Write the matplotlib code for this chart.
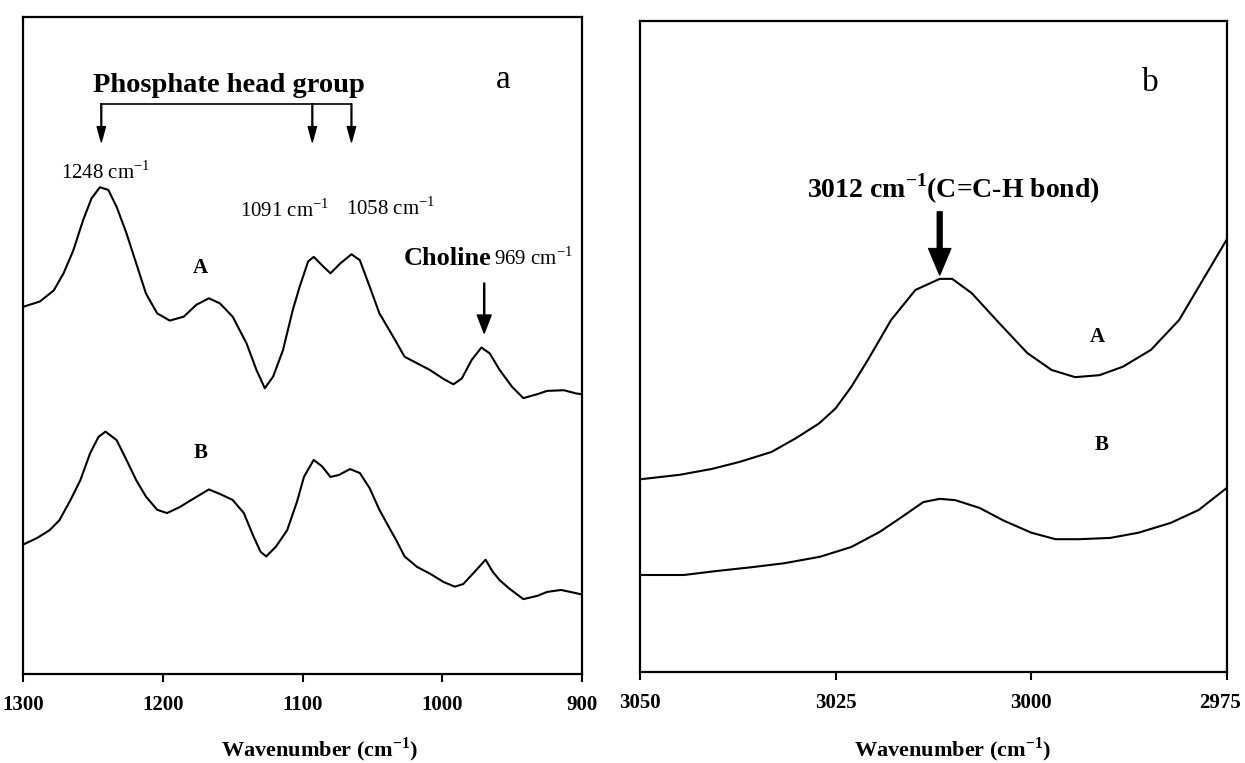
import matplotlib
matplotlib.use('Agg')
import matplotlib.pyplot as plt
from matplotlib.transforms import ScaledTranslation

plt.rcParams['font.family'] = ['Liberation Serif', 'DejaVu Serif']

# Panel a: phosphate region (arbitrary absorbance units)
wn_a = [1300, 1288, 1278, 1271, 1264, 1257, 1251, 1245, 1239, 1233, 1226, 1219, 1212,
        1204, 1195, 1185, 1176, 1167, 1159, 1150, 1140, 1133, 1127, 1121, 1114, 1107,
        1102, 1096, 1092, 1085, 1080, 1073, 1065, 1059, 1052, 1045, 1035, 1027, 1018,
        1009, 999, 992, 986, 979, 972, 966, 959, 950, 942, 932, 925, 913, 904, 900]
abs_a_A = [0.559, 0.567, 0.584, 0.610, 0.645, 0.691, 0.724, 0.741, 0.737, 0.711, 0.671, 0.625, 0.579,
           0.549, 0.538, 0.544, 0.562, 0.572, 0.564, 0.544, 0.503, 0.463, 0.435, 0.453, 0.493, 0.554,
           0.590, 0.628, 0.635, 0.620, 0.610, 0.625, 0.639, 0.630, 0.590, 0.549, 0.513, 0.483, 0.473,
           0.463, 0.449, 0.441, 0.450, 0.478, 0.497, 0.488, 0.463, 0.437, 0.420, 0.426, 0.431, 0.432, 0.427, 0.426]

wn_a_B = [1300, 1290, 1281, 1274, 1266, 1259, 1252, 1246, 1241, 1233, 1226, 1219, 1212,
          1204, 1197, 1188, 1178, 1167, 1159, 1150, 1142, 1135, 1130, 1126, 1119, 1111,
          1104, 1099, 1092, 1086, 1080, 1074, 1066, 1059, 1052, 1045, 1037, 1033, 1027,
          1018, 1009, 999, 991, 985, 978, 969, 964, 959, 952, 942, 932, 925, 915, 904, 900]
abs_a_B = [0.197, 0.207, 0.219, 0.234, 0.265, 0.295, 0.336, 0.361, 0.369, 0.356, 0.326, 0.295, 0.270,
           0.250, 0.245, 0.254, 0.267, 0.281, 0.274, 0.265, 0.245, 0.209, 0.186, 0.179, 0.194, 0.219,
           0.262, 0.300, 0.326, 0.316, 0.300, 0.303, 0.312, 0.306, 0.283, 0.250, 0.219, 0.204, 0.179,
           0.163, 0.153, 0.140, 0.133, 0.137, 0.153, 0.174, 0.156, 0.143, 0.130, 0.114, 0.119, 0.125,
           0.128, 0.123, 0.121]

# Panel b: olefinic C-H region
wn_b_A = [3050, 3044.9, 3040.8, 3037.2, 3033.2, 3030.1, 3027.1, 3025.0, 3023.0, 3020.9,
          3017.9, 3014.8, 3011.7, 3010.1, 3007.6, 3004.1, 3000.5, 2997.4, 2994.4, 2991.3,
          2988.3, 2984.7, 2981.1, 2978.1, 2975.0]
abs_b_A = [0.296, 0.303, 0.312, 0.323, 0.338, 0.359, 0.382, 0.405, 0.438, 0.479,
           0.541, 0.587, 0.604, 0.604, 0.582, 0.536, 0.490, 0.464, 0.453, 0.456,
           0.469, 0.495, 0.541, 0.602, 0.665]

wn_b_B = [3050, 3044.4, 3040.3, 3035.7, 3031.6, 3027.0, 3023.0, 3019.4, 3016.8, 3013.8,
          3011.7, 3009.7, 3006.6, 3003.6, 3000.0, 2996.9, 2993.9, 2989.9, 2986.3, 2982.2,
          2978.6, 2975.0]
abs_b_B = [0.149, 0.149, 0.155, 0.161, 0.167, 0.177, 0.192, 0.215, 0.236, 0.261,
           0.266, 0.264, 0.252, 0.233, 0.214, 0.204, 0.204, 0.206, 0.214, 0.229,
           0.249, 0.283]

ticks_a = [1300, 1200, 1100, 1000, 900]
ticks_b = [3050, 3025, 3000, 2975]

# annotation positions (wavenumber, absorbance)
phosphate_peaks = [1244, 1093, 1065]
bracket_y, arrow_tip_y = 0.868, 0.810
choline_x = 970

CM = r'cm$^{\mathregular{-1}}$'

fig = plt.figure(figsize=(12.45, 7.63), dpi=100)
ax1 = fig.add_axes([0.0185, 0.1166, 0.449, 0.861])
ax2 = fig.add_axes([0.514, 0.1193, 0.4715, 0.853])

for ax in (ax1, ax2):
    for s in ax.spines.values():
        s.set_linewidth(1.6)
    ax.set_yticks([])
    ax.set_ylim(0, 1)
    ax.tick_params(axis='x', direction='out', length=6, width=1.5, pad=9)

# ---- panel a
ax1.plot(wn_a, abs_a_A, color='black', lw=1.5)
ax1.plot(wn_a_B, abs_a_B, color='black', lw=1.5)
ax1.set_xlim(1300, 900)
ax1.set_xticks(ticks_a)
ax1.set_xticklabels([str(t) for t in ticks_a], fontweight='bold', fontsize=15)
ax1.set_xlabel('Wavenumber (' + CM + ')', fontweight='bold', fontsize=16)
ax1.xaxis.set_label_coords(0.53, -0.093)

ax1.text(1153, 0.896, 'Phosphate head group', fontweight='bold', fontsize=20.5,
         ha='center', va='center')
ax1.plot([phosphate_peaks[0], phosphate_peaks[-1]], [bracket_y, bracket_y], color='black', lw=1.2)
for p in phosphate_peaks:
    ax1.annotate('', xy=(p, arrow_tip_y), xytext=(p, bracket_y),
                 arrowprops=dict(width=0.6, headwidth=6, headlength=11, facecolor='black',
                                 edgecolor='black', shrink=0))
ax1.text(1241, 0.763, '1248 ' + CM, fontsize=15, ha='center', va='center')
ax1.text(1113, 0.706, '1091 ' + CM, fontsize=15, ha='center', va='center')
ax1.text(1037, 0.708, '1058 ' + CM, fontsize=15, ha='center', va='center')
ax1.text(956.5, 0.904, 'a', fontsize=24, ha='center', va='center')
ax1.text(1173, 0.618, 'A', fontweight='bold', fontsize=15, ha='center', va='center')
ax1.text(1173, 0.336, 'B', fontweight='bold', fontsize=15, ha='center', va='center')
ax1.text(1027.4, 0.633, 'Choline', fontweight='bold', fontsize=19, ha='left', va='center')
ax1.text(963, 0.633, '969 ' + CM, fontsize=15, ha='left', va='center')
ax1.annotate('', xy=(choline_x, 0.519), xytext=(choline_x, 0.595),
             arrowprops=dict(width=0.8, headwidth=10, headlength=13, facecolor='black',
                             edgecolor='black', shrink=0))

# ---- panel b
ax2.plot(wn_b_A, abs_b_A, color='black', lw=1.5)
ax2.plot(wn_b_B, abs_b_B, color='black', lw=1.5)
ax2.set_xlim(3050, 2975)
ax2.set_xticks(ticks_b)
ax2.set_xticklabels([str(t) for t in ticks_b], fontweight='bold', fontsize=15)
ax2.set_xlabel('Wavenumber (' + CM + ')', fontweight='bold', fontsize=16)
ax2.xaxis.set_label_coords(0.533, -0.097)
last = ax2.get_xticklabels()[-1]
last.set_transform(last.get_transform() + ScaledTranslation(-5 / 72, 0, fig.dpi_scale_trans))

ax2.text(2984.8, 0.905, 'b', fontsize=24, ha='center', va='center')
ax2.text(3010.0, 0.743, '3012 ' + CM + '(C=C-H bond)', fontweight='bold', fontsize=20,
         ha='center', va='center')
ax2.annotate('', xy=(3011.7, 0.610), xytext=(3011.7, 0.707),
             arrowprops=dict(width=3.5, headwidth=16, headlength=19, facecolor='black',
                             edgecolor='black', shrink=0))
ax2.text(2991.5, 0.515, 'A', fontweight='bold', fontsize=15, ha='center', va='center')
ax2.text(2991.0, 0.349, 'B', fontweight='bold', fontsize=15, ha='center', va='center')

fig.savefig('out.png', dpi=100)
